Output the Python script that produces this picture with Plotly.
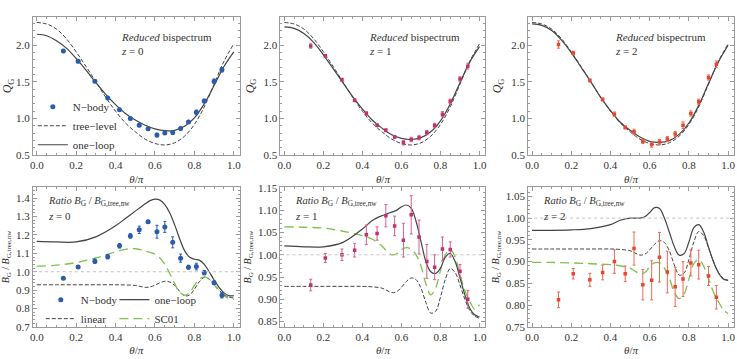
import plotly.graph_objects as go

# ---------------- data ----------------
theta_pts = [0.135, 0.21, 0.295, 0.36, 0.42, 0.475, 0.52, 0.565, 0.61, 0.65,
             0.69, 0.73, 0.77, 0.81, 0.85, 0.90, 0.94]

# top row: reduced bispectrum Q_G
q_nbody_z0 = [1.92, 1.78, 1.51, 1.28, 1.12, 1.00, 0.91, 0.86, 0.775, 0.805,
              0.81, 0.865, 0.955, 1.085, 1.24, 1.51, 1.665]
q_err_z0 = [0.02, 0.02, 0.02, 0.02, 0.015, 0.015, 0.02, 0.015, 0.025, 0.02,
            0.025, 0.02, 0.02, 0.03, 0.025, 0.03, 0.03]
q_nbody_z1 = [1.99, 1.855, 1.53, 1.25, 1.07, 0.91, 0.84, 0.75, 0.67, 0.715,
              0.74, 0.81, 0.905, 1.06, 1.235, 1.54, 1.715]
q_err_z1 = [0.03, 0.02, 0.02, 0.02, 0.025, 0.02, 0.02, 0.02, 0.03, 0.03,
            0.03, 0.03, 0.03, 0.035, 0.03, 0.03, 0.04]
q_nbody_z2 = [2.01, 1.895, 1.52, 1.26, 1.06, 0.88, 0.82, 0.69, 0.645, 0.68,
              0.72, 0.79, 0.91, 1.07, 1.23, 1.56, 1.74]
q_err_z2 = [0.05, 0.025, 0.02, 0.02, 0.03, 0.02, 0.035, 0.03, 0.035, 0.035,
            0.035, 0.035, 0.045, 0.035, 0.035, 0.035, 0.045]

theta_q = [0.0, 0.05, 0.1, 0.15, 0.2, 0.25, 0.3, 0.35, 0.4, 0.45, 0.5,
           0.55, 0.6, 0.65, 0.7, 0.75, 0.8, 0.85, 0.9, 0.95, 1.0]
q_tree = [2.31, 2.29, 2.22, 2.09, 1.91, 1.71, 1.50, 1.29, 1.10, 0.94, 0.82,
          0.72, 0.66, 0.64, 0.67, 0.76, 0.92, 1.16, 1.47, 1.78, 2.02]
q_loop_z0 = [2.15, 2.13, 2.06, 1.96, 1.82, 1.66, 1.49, 1.33, 1.19, 1.07, 0.98,
             0.91, 0.86, 0.835, 0.84, 0.895, 1.01, 1.20, 1.45, 1.71, 1.91]
q_loop_z1 = [2.25, 2.23, 2.16, 2.04, 1.87, 1.68, 1.49, 1.30, 1.13, 0.98, 0.87,
             0.78, 0.73, 0.715, 0.74, 0.82, 0.97, 1.20, 1.49, 1.77, 1.98]
q_loop_z2 = [2.29, 2.27, 2.20, 2.07, 1.90, 1.70, 1.50, 1.29, 1.11, 0.95, 0.84,
             0.75, 0.69, 0.675, 0.70, 0.785, 0.94, 1.18, 1.48, 1.77, 2.00]

# bottom row: ratio B_G / B_G,tree,nw
r_nbody_z0 = [0.965, 1.026, 1.057, 1.082, 1.141, 1.195, 1.228, 1.272, 1.218, 1.244,
              1.160, 1.074, 1.025, 1.028, 0.995, 0.940, 0.872]
r_err_z0 = [0.005, 0.008, 0.012, 0.012, 0.012, 0.012, 0.02, 0.008, 0.035, 0.03,
            0.03, 0.022, 0.01, 0.018, 0.012, 0.01, 0.015]
r_nbody_z1 = [0.932, 0.993, 1.000, 1.010, 1.045, 1.048, 1.088, 1.065, 1.033, 1.090,
              1.040, 0.985, 0.972, 1.013, 1.012, 0.963, 0.900]
r_err_z1 = [0.013, 0.010, 0.013, 0.015, 0.022, 0.015, 0.025, 0.022, 0.038, 0.043,
            0.038, 0.038, 0.028, 0.027, 0.017, 0.015, 0.02]
r_nbody_z2 = [0.812, 0.872, 0.858, 0.875, 0.900, 0.872, 0.930, 0.847, 0.857, 0.910,
              0.876, 0.842, 0.860, 0.897, 0.893, 0.867, 0.818]
r_err_z2 = [0.018, 0.012, 0.015, 0.017, 0.027, 0.018, 0.038, 0.035, 0.045, 0.057,
            0.048, 0.045, 0.04, 0.03, 0.033, 0.022, 0.027]

theta_r = [0.0, 0.1, 0.2, 0.3, 0.4, 0.45, 0.5, 0.525, 0.55, 0.575, 0.6, 0.625,
           0.65, 0.675, 0.7, 0.725, 0.75, 0.775, 0.8, 0.825, 0.85, 0.875, 0.9,
           0.925, 0.95, 0.975, 1.0]
r_linear = [0.929, 0.929, 0.929, 0.929, 0.929, 0.928, 0.925, 0.92, 0.915, 0.917,
            0.927, 0.94, 0.948, 0.944, 0.925, 0.893, 0.869, 0.873, 0.905, 0.945,
            0.969, 0.96, 0.932, 0.9, 0.875, 0.862, 0.857]
r_loop_z0 = [1.165, 1.162, 1.162, 1.19, 1.25, 1.29, 1.33, 1.35, 1.37, 1.387,
             1.395, 1.39, 1.365, 1.32, 1.255, 1.18, 1.115, 1.08, 1.068, 1.063,
             1.04, 1.0, 0.955, 0.915, 0.885, 0.87, 0.87]
r_sc01_z0 = [1.03, 1.036, 1.05, 1.075, 1.108, 1.122, 1.125, 1.12, 1.112, 1.105,
             1.095, 1.075, 1.04, 0.99, 0.935, 0.89, 0.872, 0.885, 0.925, 0.96,
             0.972, 0.96, 0.93, 0.895, 0.87, 0.855, 0.85]
r_loop_z1 = [1.02, 1.018, 1.018, 1.028, 1.058, 1.077, 1.088, 1.092, 1.096, 1.1,
             1.108, 1.112, 1.105, 1.075, 1.03, 0.985, 0.962, 0.958, 0.97, 0.995,
             1.003, 0.985, 0.948, 0.91, 0.88, 0.865, 0.86]
r_sc01_z1 = [1.063, 1.062, 1.06, 1.053, 1.043, 1.035, 1.02, 1.008, 1.0, 1.002,
             1.012, 1.016, 1.013, 1.0, 0.975, 0.935, 0.91, 0.925, 0.965, 1.0,
             1.012, 0.995, 0.955, 0.92, 0.895, 0.878, 0.888]
r_loop_z2 = [0.972, 0.972, 0.973, 0.976, 0.985, 0.995, 1.0, 1.0, 1.0, 1.003,
             1.013, 1.024, 1.022, 1.0, 0.968, 0.935, 0.915, 0.918, 0.945, 0.978,
             0.985, 0.968, 0.933, 0.9, 0.875, 0.86, 0.857]
r_sc01_z2 = [0.898, 0.898, 0.897, 0.895, 0.893, 0.89, 0.885, 0.878, 0.872, 0.875,
             0.888, 0.897, 0.897, 0.885, 0.862, 0.83, 0.815, 0.825, 0.86, 0.895,
             0.905, 0.89, 0.86, 0.83, 0.808, 0.79, 0.78]

x_ticks = [0.0, 0.2, 0.4, 0.6, 0.8, 1.0]

# ---------------- styling ----------------
FONT = "Liberation Serif"
W, H = 737, 359
GREY = "#444444"
GREEN = "#7dc24b"
COL_Z = ["#2a5caa", "#c2306e", "#e8452c"]
ERR_Z = ["#2a5caa", "#d2608e", "#ef6a55"]

cols_px = [(30, 238), (279, 485), (528, 735)]
top_px = (12, 155)
bot_px = (188, 332)


def xdom(c):
    return [cols_px[c][0] / W, cols_px[c][1] / W]


def ydom(r):
    a, b = r
    return [1 - b / H, 1 - a / H]


fig = go.Figure()


def ax_common():
    return dict(showline=True, mirror="allticks", linecolor="#9a9a9a", linewidth=1,
                ticks="inside", ticklen=4, tickcolor="#9a9a9a", tickwidth=1,
                showgrid=False, zeroline=False,
                tickfont=dict(family=FONT, size=11, color="#333"))


layout = dict(width=W, height=H, margin=dict(l=0, r=0, t=0, b=0),
              plot_bgcolor="white", paper_bgcolor="white",
              font=dict(family=FONT, size=11, color="#333"), showlegend=True)

xt = "<i>θ</i>/<i>π</i>"
yranges_bot = [[0.7, 1.46], [0.838, 1.152], [0.75, 1.071]]
ytick_bot = [[0.7, 0.8, 0.9, 1.0, 1.1, 1.2, 1.3, 1.4],
             [0.85, 0.90, 0.95, 1.00, 1.05, 1.10, 1.15],
             [0.75, 0.80, 0.85, 0.90, 0.95, 1.00, 1.05]]
yfmt_bot = [".1f", ".2f", ".2f"]
yminor_bot = [0.02, 0.01, 0.01]

for i in range(6):
    n = i + 1
    sx = "" if n == 1 else str(n)
    c = i % 3
    top = i < 3
    xa = ax_common()
    xa.update(domain=xdom(c), range=[-0.02, 1.03], anchor="y" + sx,
              tickvals=x_ticks, tickformat=".1f",
              minor=dict(ticks="inside", ticklen=2, dtick=0.05, tick0=0, tickcolor="#9a9a9a"),
              title=dict(text=xt, font=dict(family=FONT, size=11), standoff=4))
    ya = ax_common()
    if top:
        ya.update(domain=ydom(top_px), range=[0.5, 2.39], tickvals=[0.5, 1.0, 1.5, 2.0],
                  tickformat=".1f",
                  minor=dict(ticks="inside", ticklen=2, dtick=0.1, tick0=0.5, tickcolor="#9a9a9a"),
                  title=dict(text="<i>Q</i><sub>G</sub>", font=dict(family=FONT, size=12), standoff=6))
    else:
        ya.update(domain=ydom(bot_px), range=yranges_bot[c], tickvals=ytick_bot[c],
                  tickformat=yfmt_bot[c],
                  minor=dict(ticks="inside", ticklen=2, dtick=yminor_bot[c], tick0=ytick_bot[c][0],
                             tickcolor="#9a9a9a"),
                  title=dict(text="<i>B</i><sub>G</sub> / <i>B</i><sub>G,tree,nw</sub>",
                             font=dict(family=FONT, size=10), standoff=4))
    ya["anchor"] = "x" + sx
    layout["xaxis" + sx] = xa
    layout["yaxis" + sx] = ya

# ---------------- top row traces ----------------
q_loops = [q_loop_z0, q_loop_z1, q_loop_z2]
q_nb = [q_nbody_z0, q_nbody_z1, q_nbody_z2]
q_er = [q_err_z0, q_err_z1, q_err_z2]
for c in range(3):
    sx = "" if c == 0 else str(c + 1)
    leg = c == 0
    fig.add_trace(go.Scatter(x=theta_q, y=q_tree, mode="lines", line_shape="spline",
                             line=dict(color=GREY, width=1, dash="4px,2px"),
                             name="tree−level", showlegend=leg, legend="legend", legendrank=2,
                             xaxis="x" + sx, yaxis="y" + sx))
    fig.add_trace(go.Scatter(x=theta_q, y=q_loops[c], mode="lines", line_shape="spline",
                             line=dict(color=GREY, width=1.2),
                             name="one−loop", showlegend=leg, legend="legend", legendrank=3,
                             xaxis="x" + sx, yaxis="y" + sx))
    fig.add_trace(go.Scatter(x=theta_pts, y=q_nb[c], mode="markers",
                             marker=dict(color=COL_Z[c], size=5 if c == 0 else 3.5,
                                         symbol="circle" if c == 0 else "square"),
                             error_y=dict(type="data", array=q_er[c], color=ERR_Z[c],
                                          thickness=1, width=1.5),
                             name="N−body", showlegend=leg, legend="legend", legendrank=1,
                             xaxis="x" + sx, yaxis="y" + sx))

# ---------------- bottom row traces ----------------
r_loops = [r_loop_z0, r_loop_z1, r_loop_z2]
r_sc = [r_sc01_z0, r_sc01_z1, r_sc01_z2]
r_nb = [r_nbody_z0, r_nbody_z1, r_nbody_z2]
r_er = [r_err_z0, r_err_z1, r_err_z2]
for c in range(3):
    sx = str(c + 4)
    leg = c == 0
    fig.add_shape(type="line", xref="x" + sx + " domain", yref="y" + sx,
                  x0=0, x1=1, y0=1.0, y1=1.0,
                  line=dict(color="#c4c4c4", width=1, dash="dot"))
    fig.add_trace(go.Scatter(x=theta_r, y=r_linear, mode="lines", line_shape="spline",
                             line=dict(color=GREY, width=1, dash="4px,2px"),
                             name="linear", showlegend=leg, legend="legend2", legendrank=2,
                             xaxis="x" + sx, yaxis="y" + sx))
    fig.add_trace(go.Scatter(x=theta_r, y=r_sc[c], mode="lines", line_shape="spline",
                             line=dict(color=GREEN, width=1.3, dash="9px,5px"),
                             name="SC01", showlegend=leg, legend="legend3", legendrank=2,
                             xaxis="x" + sx, yaxis="y" + sx))
    fig.add_trace(go.Scatter(x=theta_r, y=r_loops[c], mode="lines", line_shape="spline",
                             line=dict(color=GREY, width=1.2),
                             name="one−loop", showlegend=leg, legend="legend3", legendrank=1,
                             xaxis="x" + sx, yaxis="y" + sx))
    fig.add_trace(go.Scatter(x=theta_pts, y=r_nb[c], mode="markers",
                             marker=dict(color=COL_Z[c], size=5 if c == 0 else 3.5,
                                         symbol="circle" if c == 0 else "square"),
                             error_y=dict(type="data", array=r_er[c], color=ERR_Z[c],
                                          thickness=1, width=1.5),
                             name="N−body", showlegend=leg, legend="legend2", legendrank=1,
                             xaxis="x" + sx, yaxis="y" + sx))

legfont = dict(family=FONT, size=11, color="#333")
layout["legend"] = dict(x=30 / W, y=1 - 90 / H, xanchor="left", yanchor="top",
                        bgcolor="rgba(0,0,0,0)", font=legfont, tracegroupgap=0,
                        itemwidth=30)
layout["legend2"] = dict(x=38 / W, y=1 - 289 / H, xanchor="left", yanchor="top",
                         bgcolor="rgba(0,0,0,0)", font=legfont, itemwidth=30)
layout["legend3"] = dict(x=112 / W, y=1 - 289 / H, xanchor="left", yanchor="top",
                         bgcolor="rgba(0,0,0,0)", font=legfont, itemwidth=30)

# ---------------- annotations ----------------
ann = []
for c, (xl, zt) in enumerate([(117, "0"), (366, "1"), (613, "2")]):
    ann.append(dict(xref="paper", yref="paper", x=xl / W, y=1 - 33 / H, xanchor="left",
                    yanchor="middle", showarrow=False,
                    text="<i>Reduced</i> bispectrum", font=dict(family=FONT, size=11, color="#333")))
    ann.append(dict(xref="paper", yref="paper", x=xl / W, y=1 - 47 / H, xanchor="left",
                    yanchor="middle", showarrow=False,
                    text="<i>z</i> = " + zt, font=dict(family=FONT, size=11, color="#333")))
for c, (xl, zt) in enumerate([(43, "0"), (292, "1"), (541, "2")]):
    ann.append(dict(xref="paper", yref="paper", x=xl / W, y=1 - 203 / H, xanchor="left",
                    yanchor="middle", showarrow=False,
                    text="<i>Ratio B</i><sub>G</sub> / <i>B</i><sub>G,tree,nw</sub>",
                    font=dict(family=FONT, size=10.5, color="#333")))
    ann.append(dict(xref="paper", yref="paper", x=xl / W, y=1 - 218 / H, xanchor="left",
                    yanchor="middle", showarrow=False,
                    text="<i>z</i> = " + zt, font=dict(family=FONT, size=11, color="#333")))
layout["annotations"] = ann

fig.update_layout(**layout)
fig.write_html("out.html")
